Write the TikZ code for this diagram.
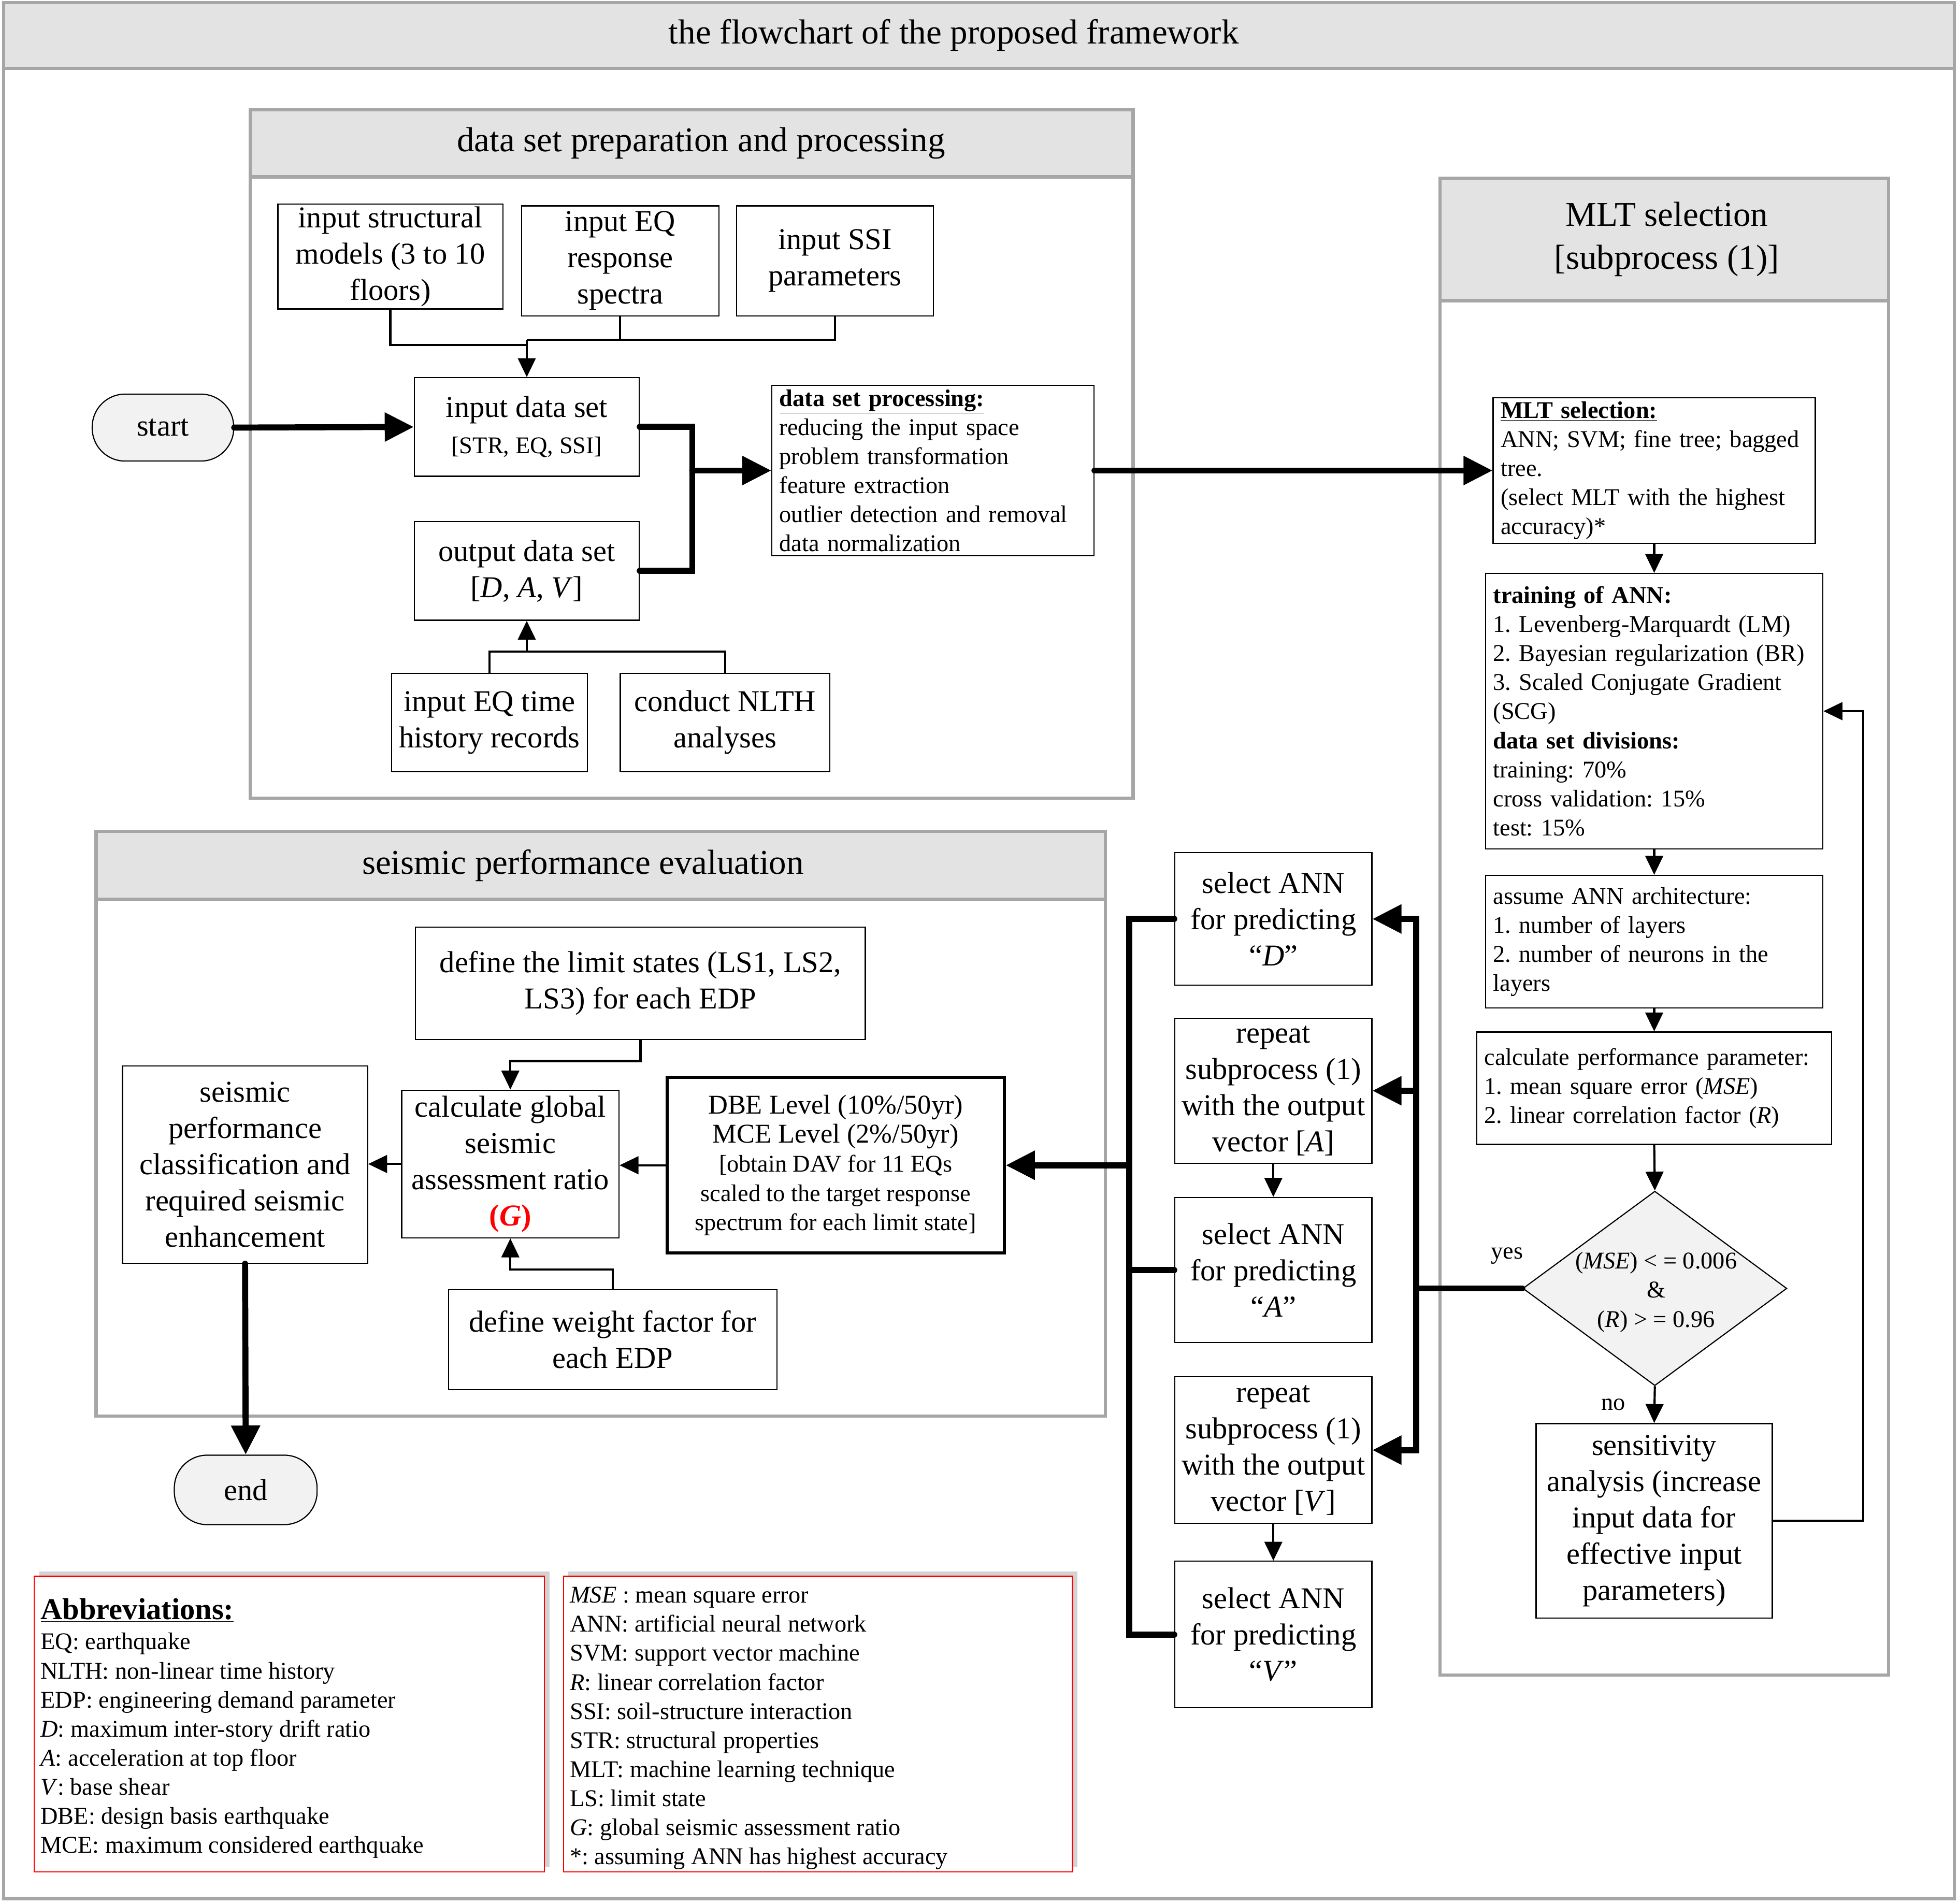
\documentclass[tikz,border=0pt]{standalone}
\usepackage{fontspec}
\setmainfont{Liberation Serif}
\usetikzlibrary{arrows.meta,shapes.geometric,shadows}
\definecolor{pgray}{RGB}{166,166,166}
\definecolor{hdr}{RGB}{227,227,227}
\definecolor{lfill}{RGB}{242,242,242}
\newcommand\fbig{\fontsize{24}{28.7}\selectfont}
\newcommand\fsm{\fontsize{19}{23}\selectfont}
\newcommand\fhdr{\fontsize{27.5}{34}\selectfont}
\newcommand{\bx}[7][box]{\node[#1,minimum width={(#5)-(#3)},minimum height={(#6)-(#4)}] (#2) at ({((#3)+(#5))/2},{((#4)+(#6))/2}) {#7};}
\tikzset{
 box/.style={draw, line width=0.9pt, align=center, inner sep=2pt, font=\fbig},
 lbox/.style={draw, line width=0.9pt, align=left, inner xsep=6pt, inner ysep=2pt, font=\fsm},
 panel/.style={draw=pgray, line width=2.6pt},
 hdrbox/.style={draw=pgray, line width=2.6pt, fill=hdr, font=\fhdr, align=center},
 thn/.style={line width=1.7pt},
 thk/.style={line width=4.8pt, line cap=round},
 tarr/.style={-{Triangle[length=15pt,width=14pt]}},
 karr/.style={-{Triangle[length=23pt,width=22pt]}},
 term/.style={draw, line width=0.9pt, fill=lfill, rounded corners=26pt, font=\fbig},
 abox/.style={draw=red, line width=0.9pt, fill=white, drop shadow={shadow xshift=4pt,shadow yshift=4pt,opacity=0.35}},
 lbl/.style={font=\fsm, inner sep=0pt},
}
\begin{document}
\frenchspacing
\begin{tikzpicture}[x=1pt,y=-1pt]
\useasboundingbox[fill=white] (0,0) rectangle (1550,1507.3);
% outer frame and title
\draw[panel] (3,2) rectangle (1547,1503);
\bx[hdrbox]{title}{3}{2}{1547}{54}{the flowchart of the proposed framework\hspace*{40pt}}

% ---------- data set panel ----------
\draw[panel] (198,87) rectangle (897,632);
\bx[hdrbox]{hdrA}{198}{87}{897}{140}{\hspace*{15pt}data set preparation and processing}
\bx{struct}{220}{163}{398}{243}{input structural\\models (3 to 10\\floors)}
\bx{eqrs}{413}{163}{569}{250}{input EQ\\response\\spectra}
\bx{ssi}{583}{163}{739}{250}{input SSI\\parameters}
\bx{indata}{328}{299}{506}{377}{input data set\\{\fsm [STR, EQ, SSI]}}
\bx{outdata}{328}{413}{506}{491}{output data set\\{}[\textit{D}, \textit{A}, \textit{V}]}
\bx{eqt}{310}{533}{465}{611}{input EQ time\\history records}
\bx{nlth}{491}{533}{657}{611}{conduct NLTH\\analyses}
\bx[lbox,text width=243pt]{dsp}{611}{305}{866}{440}{\underline{\textbf{data set processing:}}\\reducing the input space\\problem transformation\\feature extraction\\outlier detection and removal\\data normalization}
\bx[term]{start}{73}{312}{185}{365}{start}

\coordinate (j1) at (417,269);
\coordinate (j1a) at (417,273);
\draw[thn] (struct.south) |- (j1a);
\draw[thn] (eqrs.south) |- (j1);
\draw[thn] (ssi.south) |- (j1);
\draw[thn,tarr] (j1) -- (indata.north);
\coordinate (j2) at (417,516);
\draw[thn] (eqt.north) |- (j2);
\draw[thn] (nlth.north) |- (j2);
\draw[thn,tarr] (j2) -- (outdata.south);
\coordinate (j3a) at (548,338);
\coordinate (j3b) at (548,452);
\coordinate (j3) at (548,372.5);
\draw[thk] (indata.east) -- (j3a) -- (j3b) -- (outdata.east);
\draw[thk,karr] (j3) -- (dsp.west);
\draw[thk,karr] (start.east) -- (indata.west);

% ---------- MLT panel ----------
\draw[panel] (1140,141) rectangle (1495,1326);
\bx[hdrbox]{hdrB}{1140}{141}{1495}{238}{\hspace*{4pt}MLT selection\\\hspace*{4pt}{[}subprocess (1){]}}
\bx[lbox,text width=243pt]{msel}{1182}{315}{1437}{430}{\underline{\textbf{MLT selection:}}\\ANN; SVM; fine tree; bagged\\tree.\\(select MLT with the highest\\accuracy)*}
\bx[lbox,text width=255pt]{train}{1176}{454}{1443}{672}{\textbf{training of ANN:}\\1. Levenberg-Marquardt (LM)\\2. Bayesian regularization (BR)\\3. Scaled Conjugate Gradient\\(SCG)\\\textbf{data set divisions:}\\training: 70\%\\cross validation: 15\%\\test: 15\%}
\bx[lbox,text width=255pt]{arch}{1176}{693}{1443}{798}{assume ANN architecture:\\1. number of layers\\2. number of neurons in the\\layers}
\bx[lbox,text width=269pt]{perfp}{1169}{817}{1450}{906}{calculate performance parameter:\\1. mean square error (\textit{MSE})\\2. linear correlation factor (\textit{R})}
\node[diamond, draw, line width=0.9pt, fill=lfill, minimum width=209pt, minimum height=154pt, aspect=1.357, inner sep=0pt] (dia) at (1310,1020) {};
\node[font=\fsm, align=center] (diat) at (1311,1023) {(\textit{MSE}) < = 0.006\\\&\\(\textit{R}) > = 0.96};
\bx{sens}{1216}{1127}{1403}{1281}{sensitivity\\analysis (increase\\input data for\\effective input\\parameters)}
\node[lbl] (yes) at (1193,994) {yes};
\node[lbl] (no) at (1277,1112) {no};

\draw[thk,karr] (dsp.east) -- (msel.west);
\draw[thn,tarr] (msel.south) -- (train.north);
\draw[thn,tarr] (train.south) -- (arch.north);
\draw[thn,tarr] (arch.south) -- (perfp.north);
\draw[thn,tarr] (perfp.south) -- (dia.north);
\draw[thn,tarr] (dia.south) -- (sens.north);
\coordinate (fb1) at (1475,1204);
\coordinate (fb2) at (1475,563);
\draw[thn,tarr] (sens.east) -- (fb1) -- (fb2) -- (train.east);

% ---------- output column ----------
\bx{selD}{930}{675}{1086}{780}{select ANN\\for predicting\\``\textit{D}''}
\bx{repA}{930}{806}{1086}{921}{repeat\\subprocess (1)\\with the output\\vector [\textit{A}]}
\bx{selA}{930}{948}{1086}{1063}{select ANN\\for predicting\\``\textit{A}''}
\bx{repV}{930}{1090}{1086}{1206}{repeat\\subprocess (1)\\with the output\\vector [\textit{V}]}
\bx{selV}{930}{1236}{1086}{1352}{select ANN\\for predicting\\``\textit{V}''}
\draw[thn,tarr] (repA.south) -- (selA.north);
\draw[thn,tarr] (repV.south) -- (selV.north);

\coordinate (v1) at (1121,727.5);
\coordinate (v2) at (1121,863.5);
\coordinate (v3) at (1121,1148);
\coordinate (vy) at (1121,1020);
\draw[thk,line cap=butt,{Triangle[length=23pt,width=22pt]}-{Triangle[length=23pt,width=22pt]}] (selD.east) -- (v1) -- (v3) -- (repV.east);
\draw[thk,line cap=butt,karr] (v2) -- (repA.east);
\draw[thk] (dia.west) -- (vy);

\coordinate (b1) at (894,727.5);
\coordinate (b2) at (894,1005.5);
\coordinate (b3) at (894,1294);
\coordinate (bm) at (894,922.5);
\draw[thk] (selD.west) -- (b1) -- (b3) -- (selV.west);
\draw[thk] (selA.west) -- (b2);

% ---------- seismic panel ----------
\draw[panel] (76,658) rectangle (875,1121);
\bx[hdrbox]{hdrC}{76}{658}{875}{712}{seismic performance evaluation\hspace*{28pt}}
\bx{limit}{329}{734}{685}{823}{define the limit states (LS1, LS2,\\LS3) for each EDP}
\bx{calc}{318}{863}{490}{980}{calculate global\\seismic\\assessment ratio\\\textcolor{red}{\bfseries(\textit{G})}}
\bx[box,line width=2.4pt,font=\fsm]{dbe}{528}{853}{795}{992}{{\fontsize{21.5}{26}\selectfont DBE Level (10\%/50yr)}\\{\fontsize{21.5}{26}\selectfont MCE Level (2\%/50yr)}\\{}[obtain DAV for 11 EQs\\scaled to the target response\\spectrum for each limit state]}
\bx{perf}{97}{844}{291}{1000}{seismic\\performance\\classification and\\required seismic\\enhancement}
\bx{weight}{355}{1021}{615}{1100}{define weight factor for\\each EDP}
\bx[term]{endn}{138}{1152}{251}{1207}{end}

\draw[thk,line cap=butt,karr] (bm) -- (dbe.east);
\coordinate (c2) at (404,840);
\draw[thn,tarr] (limit.south) |- (c2) -- (calc.north);
\draw[thn,tarr] (dbe.west) -- (dbe.west -| calc.east);
\draw[thn,tarr] (calc.west) -- (calc.west -| perf.east);
\coordinate (w2) at (404,1005);
\draw[thn,tarr] (weight.north) |- (w2) -- (calc.south);
\draw[thk,karr] (perf.south) -- (endn.north);

% ---------- abbreviations ----------
\bx[abox]{abL}{27}{1248}{431}{1482}{}
\bx[abox]{abR}{446}{1248}{849}{1482}{}
\node[anchor=base west, inner sep=0pt, font=\fontsize{24}{28}\selectfont] (abTitle) at (32,1282) {\underline{\textbf{Abbreviations:}}};
\foreach \t [count=\i from 0] in {EQ: earthquake, NLTH: non-linear time history, EDP: engineering demand parameter, \textit{D}: maximum inter-story drift ratio, \textit{A}: acceleration at top floor, \textit{V}: base shear, DBE: design basis earthquake, MCE: maximum considered earthquake}
  \node[anchor=base west, inner sep=0pt, font=\fsm] (abLt\i) at (32,{1306+23*\i}) {\t};
\foreach \t [count=\i from 0] in {\textit{MSE} : mean square error, ANN: artificial neural network, SVM: support vector machine, \textit{R}: linear correlation factor, SSI: soil-structure interaction, STR: structural properties, MLT: machine learning technique, LS: limit state, \textit{G}: global seismic assessment ratio, *: assuming ANN has highest accuracy}
  \node[anchor=base west, inner sep=0pt, font=\fsm] (abRt\i) at (451,{1269+23*\i}) {\t};
\end{tikzpicture}
\end{document}
